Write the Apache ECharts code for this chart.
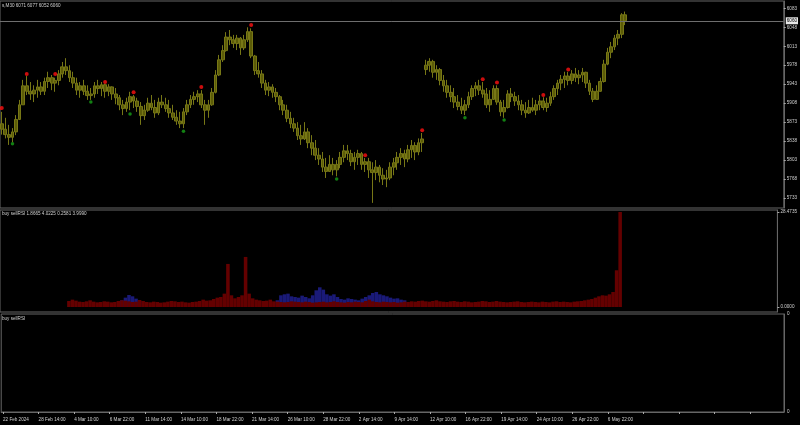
<!DOCTYPE html>
<html><head><meta charset="utf-8">
<script src="https://cdn.jsdelivr.net/npm/echarts@6/dist/echarts.min.js"></script>
<style>html,body{margin:0;padding:0;background:#000}#c{width:800px;height:425px}</style>
</head><body><div id="c"></div>
<script>
const timeLabels = ['22 Feb 2024','28 Feb 14:00','4 Mar 10:00','6 Mar 22:00','11 Mar 14:00','14 Mar 10:00','18 Mar 22:00','21 Mar 14:00','26 Mar 10:00','28 Mar 22:00','2 Apr 14:00','9 Apr 14:00','12 Apr 10:00','16 Apr 22:00','19 Apr 14:00','24 Apr 10:00','26 Apr 22:00','6 May 22:00'];
const labelStep = 10;
const categoryCount = 220;
// [open, close, low, high]
const candles = [
[5870,5860,5850,5892],[5860,5850,5843,5881],[5850,5845,5831,5868],[5845,5855,5836,5862],[5855,5878,5849,5886],
[5878,5905,5877,5914],[5905,5940,5905,5951],[5940,5930,5923,5958],[5930,5925,5914,5947],[5925,5932,5910,5941],
[5932,5938,5918,5951],[5938,5930,5923,5947],[5930,5948,5923,5955],[5948,5955,5936,5966],[5955,5945,5932,5960],
[5945,5950,5929,5955],[5950,5962,5941,5969],[5962,5975,5955,5984],[5975,5968,5960,5991],[5968,5955,5947,5978],
[5955,5945,5936,5966],[5945,5932,5923,5955],[5932,5940,5918,5947],[5940,5930,5923,5951],[5930,5922,5914,5941],
[5922,5925,5914,5936],[5925,5940,5918,5947],[5940,5935,5925,5951],[5935,5942,5921,5947],[5942,5930,5918,5944],
[5930,5938,5921,5943],[5938,5925,5914,5939],[5925,5918,5906,5936],[5918,5905,5895,5923],[5905,5898,5886,5914],
[5898,5910,5892,5918],[5910,5920,5895,5929],[5920,5912,5899,5923],[5912,5902,5892,5918],[5902,5885,5868,5910],
[5885,5895,5877,5905],[5895,5908,5892,5918],[5908,5900,5895,5923],[5900,5890,5881,5914],[5890,5910,5886,5918],
[5910,5905,5899,5923],[5905,5898,5892,5918],[5898,5890,5881,5914],[5890,5882,5877,5905],[5882,5875,5868,5895],
[5875,5870,5862,5892],[5870,5892,5862,5899],[5892,5905,5886,5914],[5905,5915,5899,5923],[5915,5920,5905,5929],
[5920,5925,5910,5932],[5925,5905,5899,5932],[5905,5895,5868,5914],[5895,5905,5881,5914],[5905,5928,5903,5936],
[5928,5960,5926,5969],[5960,5988,5958,5997],[5988,6005,5984,6015],[6005,6030,6003,6039],[6030,6025,6015,6043],
[6025,6018,6010,6034],[6018,6028,6006,6034],[6028,6010,5997,6030],[6010,6025,6006,6034],[6025,6040,6021,6048],
[6040,5995,5991,6046],[5995,5968,5960,5997],[5968,5962,5955,5984],[5962,5945,5936,5969],[5945,5932,5923,5951],
[5932,5938,5921,5947],[5938,5928,5918,5943],[5928,5920,5910,5936],[5920,5905,5895,5923],[5905,5895,5886,5914],
[5895,5880,5873,5905],[5880,5870,5862,5892],[5870,5862,5855,5881],[5862,5848,5840,5873],[5848,5842,5831,5868],
[5842,5855,5840,5873],[5855,5835,5825,5862],[5835,5825,5812,5849],[5825,5812,5803,5840],[5812,5805,5794,5825],
[5805,5790,5781,5818],[5790,5782,5770,5807],[5782,5795,5781,5812],[5795,5785,5775,5807],[5785,5795,5773,5803],
[5795,5808,5788,5818],[5808,5820,5799,5831],[5820,5815,5803,5831],[5815,5800,5792,5822],[5800,5808,5785,5818],
[5808,5815,5794,5822],[5815,5795,5785,5818],[5795,5800,5781,5807],[5800,5785,5770,5807],[5785,5780,5724,5799],
[5780,5790,5766,5803],[5790,5775,5762,5794],[5775,5768,5757,5788],[5768,5770,5753,5785],[5770,5790,5766,5799],
[5790,5798,5775,5807],[5798,5808,5785,5818],[5808,5815,5794,5825],[5815,5805,5790,5822],[5805,5822,5799,5831],
[5822,5830,5807,5840],[5830,5818,5803,5836],[5818,5835,5812,5843],[5835,5842,5818,5853],[5970,5978,5960,5988],
[5978,5985,5966,5991],[5985,5965,5955,5988],[5965,5970,5951,5978],[5970,5950,5941,5973],[5950,5940,5929,5960],
[5940,5928,5918,5951],[5928,5920,5910,5941],[5920,5910,5899,5936],[5910,5902,5895,5923],[5902,5895,5888,5918],
[5895,5905,5886,5914],[5905,5920,5899,5929],[5920,5935,5914,5941],[5935,5940,5921,5947],[5940,5932,5923,5951],
[5932,5925,5918,5947],[5925,5905,5899,5936],[5905,5915,5892,5932],[5915,5935,5914,5941],[5935,5910,5905,5941],
[5910,5892,5884,5914],[5892,5900,5881,5914],[5900,5925,5898,5932],[5925,5920,5910,5936],[5920,5912,5903,5929],
[5912,5905,5895,5923],[5905,5895,5886,5914],[5895,5890,5881,5910],[5890,5900,5888,5914],[5900,5895,5892,5918],
[5895,5905,5886,5914],[5905,5912,5895,5923],[5912,5900,5895,5919],[5900,5908,5892,5918],[5908,5920,5903,5929],
[5920,5935,5914,5941],[5935,5945,5923,5951],[5945,5952,5932,5960],[5952,5958,5936,5966],[5958,5950,5941,5966],
[5950,5962,5943,5969],[5962,5955,5947,5973],[5955,5960,5943,5969],[5960,5965,5947,5973],[5965,5945,5936,5966],
[5945,5930,5923,5951],[5930,5915,5910,5936],[5915,5930,5914,5941],[5930,5948,5929,5955],[5948,5980,5946,5988],
[5980,6002,5978,6010],[6002,6012,5991,6021],[6012,6028,6006,6034],[6028,6035,6015,6043],[6035,6071,6028,6074],
[6071,6060,6052,6077]
];
const upFractals = [[0,5899],[7,5962],[15,5962],[29,5947],[37,5928],[56,5938],[70,6052],[102,5812],[118,5858],[135,5952],[139,5946],[152,5923],[159,5970]];
const downFractals = [[3,5833],[25,5910],[36,5888],[51,5856],[94,5768],[130,5881],[141,5877]];
const histStart = 19;
const sellValues = [
1.8,2.2,1.9,1.6,1.5,1.7,2.0,1.6,1.4,1.5,1.7,
1.6,1.4,1.5,1.8,2.0,1.9,1.7,1.5,1.6,2.1,
1.8,1.5,1.4,1.6,1.5,1.3,1.4,1.6,1.8,1.7,
1.5,1.6,1.4,1.3,1.5,1.6,1.8,2.2,1.9,2.0,
2.4,2.8,3.0,4.0,12.9,3.5,2.6,3.0,3.5,15.0,
4.0,2.6,2.2,2.0,1.8,1.9,2.2,1.7,1.6,1.5,
1.4,1.5,1.7,1.6,1.5,1.4,1.6,1.5,1.3,1.4,
1.5,1.6,1.4,1.5,1.7,1.5,1.4,1.3,1.5,1.4,
1.6,1.5,1.4,1.8,2.2,1.7,1.5,1.4,1.6,1.5,
1.4,1.5,1.3,1.4,1.6,1.5,1.7,1.6,1.8,1.9,
1.7,1.6,1.8,2.0,1.7,1.6,1.5,1.7,1.8,1.6,
1.5,1.7,1.6,1.4,1.5,1.6,1.8,1.7,1.5,1.6,
1.8,1.6,1.5,1.4,1.5,1.6,1.7,1.5,1.4,1.5,
1.6,1.5,1.4,1.6,1.5,1.4,1.6,1.7,1.5,1.6,
1.5,1.4,1.6,1.7,1.8,2.0,2.2,2.4,2.8,3.2,
3.5,3.4,3.8,4.5,11.0,28.4735
];
const buyValues = [
0,0,0,0,0,0,0,0,0,0,0,0,0,0,0,
2.0,2.8,3.6,3.2,2.5,1.8,
0,0,0,0,0,0,0,0,0,0,0,0,0,0,0,0,0,0,0,0,0,0,0,0,0,0,0,0,0,0,0,0,0,0,0,0,0,0,
2.0,3.5,3.8,4.0,3.2,3.0,2.8,3.4,3.0,2.6,3.5,5.0,5.9,5.2,3.8,3.4,3.8,3.0,2.4,2.2,2.6,2.4,2.2,2.0,2.5,3.0,3.5,4.2,4.5,3.8,3.5,3.2,2.8,2.5,2.6,2.2,2.0,
0,0,0,0,0,0,0,0,0,0,0,0,0,0,0,0,0,0,0,0,0,0,0,0,0,0,0,0,0,0,0,0,0,0,0,0,0,0,0,0,0,0,0,0,0,0,0,0,0,0,0,0,0,0,0,0,0,0,0,0,0
];
const priceTicks = [5733,5768,5803,5838,5873,5908,5943,5978,6013,6048,6083];
const histTicks = [0, 28.4735];
const bidPrice = 6060;
const mainTitle = 's,M30 6071 6077 6052 6060';
const subTitle1 = 'buy sellRSI 1.8665 4.0225 0.2581 3.9990';
const subTitle2 = 'buy sellRSI';

const categories = Array.from({length: categoryCount}, (_, i) => i % labelStep === 0 ? (timeLabels[i / labelStep] || '') : '');
const pad = new Array(histStart).fill('-');
const sellData = pad.concat(sellValues);
const buyData = pad.concat(buyValues);

const FONT = 'Liberation Sans';
const TXT = '#d0d0d0';
const GRID_LINE = '#666';
const fs = 4.6;

const chart = echarts.init(document.getElementById('c'), null, {renderer: 'canvas'});
const hiddenX = (gi) => ({type: 'category', gridIndex: gi, data: categories, boundaryGap: true,
  axisLine: {show: false}, axisTick: {show: false}, axisLabel: {show: false}, splitLine: {show: false}});
chart.setOption({
  backgroundColor: '#000',
  animation: false,
  textStyle: {fontFamily: FONT},
  title: [
    {text: mainTitle, left: 2, top: 3, padding: 0, textStyle: {fontSize: fs, color: TXT, fontWeight: 'normal', fontFamily: FONT}},
    {text: subTitle1, left: 2, top: 211, padding: 0, textStyle: {fontSize: fs, color: TXT, fontWeight: 'normal', fontFamily: FONT}},
    {text: subTitle2, left: 2, top: 316, padding: 0, textStyle: {fontSize: fs, color: TXT, fontWeight: 'normal', fontFamily: FONT}}
  ],
  grid: [
    {left: 0, right: 16, top: 1, height: 207, show: true, borderColor: GRID_LINE, borderWidth: 1},
    {left: 0, right: 16, top: 210, height: 102, show: true, borderColor: GRID_LINE, borderWidth: 1},
    {left: 0, right: 16, top: 314, height: 98, show: true, borderColor: GRID_LINE, borderWidth: 1}
  ],
  xAxis: [
    hiddenX(0), hiddenX(1),
    {type: 'category', gridIndex: 2, data: categories, boundaryGap: true,
     axisLine: {show: true, lineStyle: {color: GRID_LINE}},
     axisTick: {show: true, interval: labelStep - 1, alignWithLabel: true, length: 2, lineStyle: {color: '#aaa'}},
     axisLabel: {show: true, interval: labelStep - 1, align: 'left', fontSize: fs, color: TXT, margin: 5, fontFamily: FONT},
     splitLine: {show: false}}
  ],
  yAxis: [
    {type: 'value', gridIndex: 0, position: 'right', min: 5714.6, max: 6096.5, scale: true,
     axisLine: {show: true, lineStyle: {color: GRID_LINE}},
     axisTick: {show: true, length: 2, customValues: priceTicks, lineStyle: {color: '#aaa'}},
     axisLabel: {show: true, customValues: priceTicks, fontSize: fs, color: TXT, margin: 3, fontFamily: FONT,
       formatter: v => String(v)},
     splitLine: {show: false}},
    {type: 'value', gridIndex: 1, position: 'right', min: -1.5, max: 29.07,
     axisLine: {show: true, lineStyle: {color: GRID_LINE}},
     axisTick: {show: true, length: 2, customValues: histTicks, lineStyle: {color: '#aaa'}},
     axisLabel: {show: true, customValues: histTicks, fontSize: fs, color: TXT, margin: 3, fontFamily: FONT,
       formatter: v => v.toFixed(4)},
     splitLine: {show: false}},
    {type: 'value', gridIndex: 2, position: 'right', min: 0, max: 1,
     axisLine: {show: true, lineStyle: {color: GRID_LINE}},
     axisTick: {show: false},
     axisLabel: {show: true, customValues: [0, 1], fontSize: fs, color: TXT, margin: 3, fontFamily: FONT,
       formatter: () => '0'},
     splitLine: {show: false}}
  ],
  series: [
    {type: 'candlestick', xAxisIndex: 0, yAxisIndex: 0, data: candles, barWidth: '90%',
     itemStyle: {color: '#5c5c08', color0: '#5c5c08', borderColor: '#777716', borderColor0: '#777716', borderWidth: 1},
     markLine: {silent: true, symbol: 'none', animation: false,
       lineStyle: {color: '#6e6e6e', type: 'solid', width: 1},
       label: {show: true, position: 'end', distance: 2, formatter: String(bidPrice), fontSize: fs, color: '#000',
         backgroundColor: '#e8e8e8', padding: [1, 1], fontFamily: FONT},
       data: [{yAxis: bidPrice}]}},
    {type: 'scatter', xAxisIndex: 0, yAxisIndex: 0, data: upFractals, symbol: 'circle', symbolSize: 4,
     itemStyle: {color: '#ff1010'}, z: 5},
    {type: 'scatter', xAxisIndex: 0, yAxisIndex: 0, data: downFractals, symbol: 'circle', symbolSize: 3.5,
     itemStyle: {color: '#16a016'}, z: 5},
    {type: 'bar', xAxisIndex: 1, yAxisIndex: 1, data: buyData, barWidth: '100%', barGap: '-100%',
     itemStyle: {color: '#1a1a78'}},
    {type: 'bar', xAxisIndex: 1, yAxisIndex: 1, data: sellData, barWidth: '100%', barGap: '-100%',
     itemStyle: {color: '#640000'}}
  ]
});
</script></body></html>
